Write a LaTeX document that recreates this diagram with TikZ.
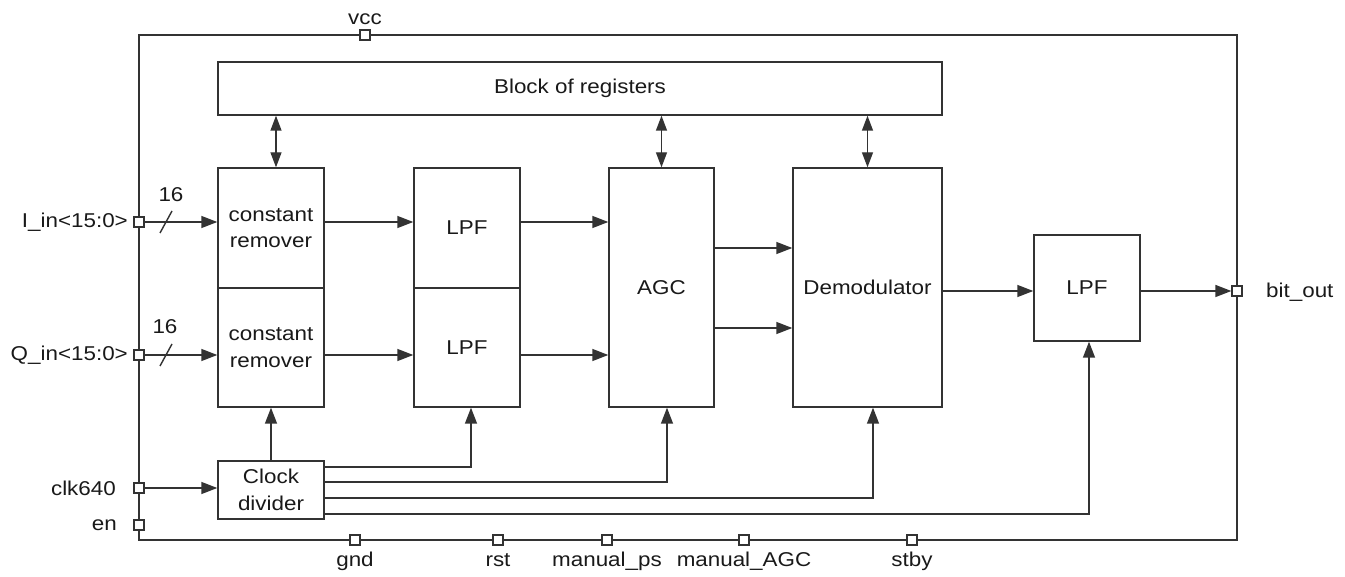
\documentclass[tikz,border=0pt]{standalone}
\usepackage{fontspec}
\setmainfont{Liberation Sans}[FakeStretch=1.12]
\usetikzlibrary{arrows.meta}
\begin{document}
\begin{tikzpicture}[x=1pt,y=-1pt,
  every node/.style={font=\fontsize{20}{26.5}\selectfont, text=black!90},
  blk/.style={draw=black!80, line width=1.4pt, fill=white, inner sep=0pt, align=center},
  port/.style={draw=black!80, line width=1.3pt, fill=white, minimum size=10pt, inner sep=0pt},
  wire/.style={draw=black!80, line width=1.4pt},
  arr/.style={wire, -{Triangle[length=16pt,width=12pt]}},
  dbl/.style={wire, {Triangle[length=15pt,width=11pt]}-{Triangle[length=15pt,width=11pt]}},
  lbl/.style={inner sep=0pt}
]
\useasboundingbox (0,0) rectangle (1345,577);
% frame
\draw[wire] (139,35) rectangle (1237,540);
% blocks
\node[blk, minimum width=724pt, minimum height=53pt] (reg) at (580,88.5) {Block of registers};
\node[blk, minimum width=106pt, minimum height=120pt] (cr1) at (271,228) {constant\\remover};
\node[blk, minimum width=106pt, minimum height=119pt] (cr2) at (271,347.5) {constant\\remover};
\node[blk, minimum width=106pt, minimum height=120pt] (lpf1) at (467,228) {LPF};
\node[blk, minimum width=106pt, minimum height=119pt] (lpf2) at (467,347.5) {LPF};
\node[blk, minimum width=105pt, minimum height=239pt] (agc) at (661.5,287.5) {AGC};
\node[blk, minimum width=149pt, minimum height=239pt] (dem) at (867.5,287.5) {Demodulator};
\node[blk, minimum width=106pt, minimum height=106pt] (lpf3) at (1087,288) {LPF};
\node[blk, minimum width=106pt, minimum height=58pt] (clk) at (271,490) {Clock\\divider};
% ports
\node[port] (pvcc) at (365,35) {};
\node[port] (pI) at (139,222) {};
\node[port] (pQ) at (139,355) {};
\node[port] (pclk) at (139,488) {};
\node[port] (pen) at (139,525) {};
\node[port] (pout) at (1237,291) {};
\node[port] (pgnd) at (355,540) {};
\node[port] (prst) at (498,540) {};
\node[port] (pps) at (607,540) {};
\node[port] (pagc) at (744,540) {};
\node[port] (pstby) at (912,540) {};
% port labels
\node[lbl, anchor=south] (lvcc) at (365,25) {vcc};
\node[lbl, anchor=east] (lI) at (128,222) {I\_in<15:0>};
\node[lbl, anchor=east] (lQ) at (128,355) {Q\_in<15:0>};
\node[lbl, anchor=east] (lclk) at (116,488) {clk640};
\node[lbl, anchor=east] (len) at (117,525) {en};
\node[lbl, anchor=west] (lout) at (1266,292) {bit\_out};
\node[lbl, anchor=base] (lgnd) at (355,566) {gnd};
\node[lbl, anchor=base] (lrst) at (498,566) {rst};
\node[lbl, anchor=base] (lps) at (607,566) {manual\_ps};
\node[lbl, anchor=base] (lagc) at (744,566) {manual\_AGC};
\node[lbl, anchor=base] (lstby) at (912,566) {stby};
% bus width marks
\node[lbl] (w1) at (171,195) {16};
\node[lbl] (w2) at (165,327) {16};
\draw[wire] (160,233) -- (172,211);
\draw[wire] (160,366) -- (172,344);
% register connections
\draw[dbl] ([xshift=5pt]cr1.north) -- ([xshift=5pt]cr1.north |- reg.south);
\draw[dbl] (agc.north) -- (agc.north |- reg.south);
\draw[dbl] (dem.north) -- (dem.north |- reg.south);
% data path
\draw[arr] (pI.east) -- (pI -| cr1.west);
\draw[arr] (pQ.east) -- (pQ -| cr2.west);
\draw[arr] (pI -| cr1.east) -- (pI -| lpf1.west);
\draw[arr] (pQ -| cr2.east) -- (pQ -| lpf2.west);
\draw[arr] (pI -| lpf1.east) -- (pI -| agc.west);
\draw[arr] (pQ -| lpf2.east) -- (pQ -| agc.west);
\coordinate (a1) at (0,248);
\coordinate (a2) at (0,328);
\draw[arr] (a1 -| agc.east) -- (a1 -| dem.west);
\draw[arr] (a2 -| agc.east) -- (a2 -| dem.west);
\draw[arr] (pout -| dem.east) -- (pout -| lpf3.west);
\draw[arr] (pout -| lpf3.east) -- (pout.west);
% clock
\draw[arr] (pclk.east) -- (pclk -| clk.west);
\draw[arr] (clk.north) -- (cr2.south);
\coordinate (c1) at (471,467);
\coordinate (c2) at (667,482);
\coordinate (c3) at (873,498);
\coordinate (c4) at (1089,514);
\draw[arr] (c1 -| clk.east) -| (c1 |- lpf2.south);
\draw[arr] (c2 -| clk.east) -| (c2 |- agc.south);
\draw[arr] (c3 -| clk.east) -| (c3 |- dem.south);
\draw[arr] (c4 -| clk.east) -| (c4 |- lpf3.south);
\end{tikzpicture}
\end{document}
